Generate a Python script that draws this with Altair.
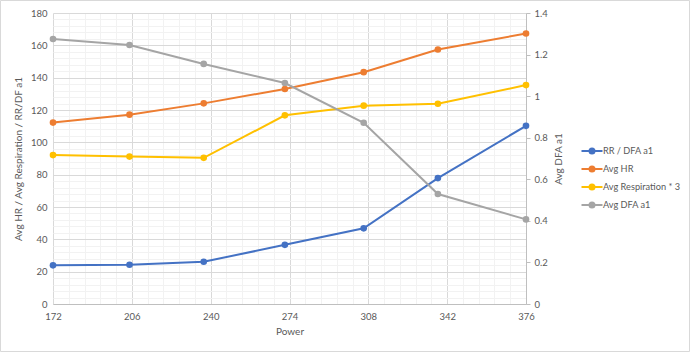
import altair as alt
import pandas as pd

# ---- data ----
power = [172, 205, 237, 272, 306, 338, 376]
rr_dfa = [23.9, 24.3, 26.1, 36.6, 46.8, 77.9, 110.2]
avg_hr = [112.2, 117.1, 124.1, 133.0, 143.4, 157.4, 167.3]
avg_resp3 = [92.1, 91.2, 90.4, 116.7, 122.7, 123.9, 135.4]
avg_dfa = [1.275, 1.246, 1.155, 1.063, 0.872, 0.529, 0.407]

series_names = ["RR / DFA a1", "Avg HR", "Avg Respiration * 3", "Avg DFA a1"]
series_colors = ["#4472C4", "#ED7D31", "#FFC000", "#A5A5A5"]

x_major = [172, 206, 240, 274, 308, 342, 376]
x_grid = [round(172 + i * 6.8, 4) for i in range(31)]
yl_grid = list(range(0, 181, 4))
yr_ticks = [0, 0.2, 0.4, 0.6, 0.8, 1, 1.2, 1.4]

FONT = "Lato"
TXT = "#595959"

rows = []
for name, vals in zip(series_names[:3], [rr_dfa, avg_hr, avg_resp3]):
    for p, v in zip(power, vals):
        rows.append({"power": p, "series": name, "value": v})
df_left = pd.DataFrame(rows)
df_right = pd.DataFrame({"power": power, "series": series_names[3], "dfa": avg_dfa})

major_test = "indexof([" + ",".join(str(v) for v in x_major) + "], datum.value) >= 0"

x_axis = alt.Axis(
    title="Power", values=x_grid, format="d",
    labelExpr=f"{major_test} ? datum.label : ''",
    labelOverlap=False, labelFlush=False, ticks=False,
    domainColor="#bfbfbf", labelPadding=7, titlePadding=6,
    gridColor={"condition": {"test": major_test, "value": "#d9d9d9"}, "value": "#f2f2f2"},
)
yl_axis = alt.Axis(
    title="Avg HR / Avg Respiration / RR/DF a1", values=yl_grid,
    labelExpr="datum.value % 20 === 0 ? datum.label : ''",
    labelOverlap=False, ticks=False, domain=False, labelPadding=6, titlePadding=7,
    gridColor={"condition": {"test": "datum.value % 20 === 0", "value": "#d9d9d9"}, "value": "#f2f2f2"},
)
yr_axis = alt.Axis(
    title="Avg DFA a1", orient="right", values=yr_ticks, format="~g",
    grid=False, ticks=True, tickSize=4, tickColor="#bfbfbf", domainColor="#bfbfbf",
    labelPadding=4, titlePadding=6, titleAngle=270, titleBaseline="top", labelOverlap=False,
)

# legend symbol: a short line with a dot drawn as overlapping rings
sym = ("M-2.1,0L2.1,0"
       "M-0.5,0A0.5,0.5,0,1,0,0.5,0A0.5,0.5,0,1,0,-0.5,0"
       "M-0.16,0A0.16,0.16,0,1,0,0.16,0A0.16,0.16,0,1,0,-0.16,0")
legend = alt.Legend(
    title=None, orient="none", legendX=533, legendY=132, padding=0,
    symbolType=sym, symbolSize=100, symbolStrokeWidth=2, labelOffset=5, rowPadding=4,
    labelFont=FONT, labelFontSize=9.2, labelColor=TXT,
)

x_enc = alt.X("power:Q", scale=alt.Scale(domain=[172, 376], nice=False, zero=False), axis=x_axis)
cscale = alt.Scale(domain=series_names, range=series_colors)
color_enc = alt.Color("series:N", scale=cscale, legend=legend)

yl_enc = alt.Y("value:Q", scale=alt.Scale(domain=[0, 180], nice=False), axis=yl_axis)
yr_enc = alt.Y("dfa:Q", scale=alt.Scale(domain=[0, 1.4], nice=False), axis=yr_axis)

pt = alt.OverlayMarkDef(filled=True, size=44, opacity=1)
left = alt.Chart(df_left).mark_line(strokeWidth=2, point=pt).encode(x=x_enc, y=yl_enc, color=color_enc)
right = alt.Chart(df_right).mark_line(strokeWidth=2, point=pt).encode(x=x_enc, y=yr_enc, color=color_enc)

# thin outer frame around the whole chart (decoration)
frame = alt.Chart(pd.DataFrame({"f": [0]})).mark_rect(fill=None, stroke="#d9d9d9", strokeWidth=1).encode(
    x=alt.value(-52.5), x2=alt.value(636.5), y=alt.value(-12.5), y2=alt.value(338.5)
)

chart = alt.layer(frame, left, right).resolve_scale(y="independent").properties(
    width=473, height=291,
    autosize=alt.AutoSizeParams(type="none"),
    padding={"left": 53, "top": 13, "right": 164, "bottom": 48},
    background="white",
).configure_view(stroke=None).configure_axis(
    labelFont=FONT, titleFont=FONT, labelColor=TXT, titleColor=TXT,
    labelFontSize=9.5, titleFontSize=10, titleFontWeight="normal",
)

chart.save("out.html", embed_options={"renderer": "svg", "actions": False})
